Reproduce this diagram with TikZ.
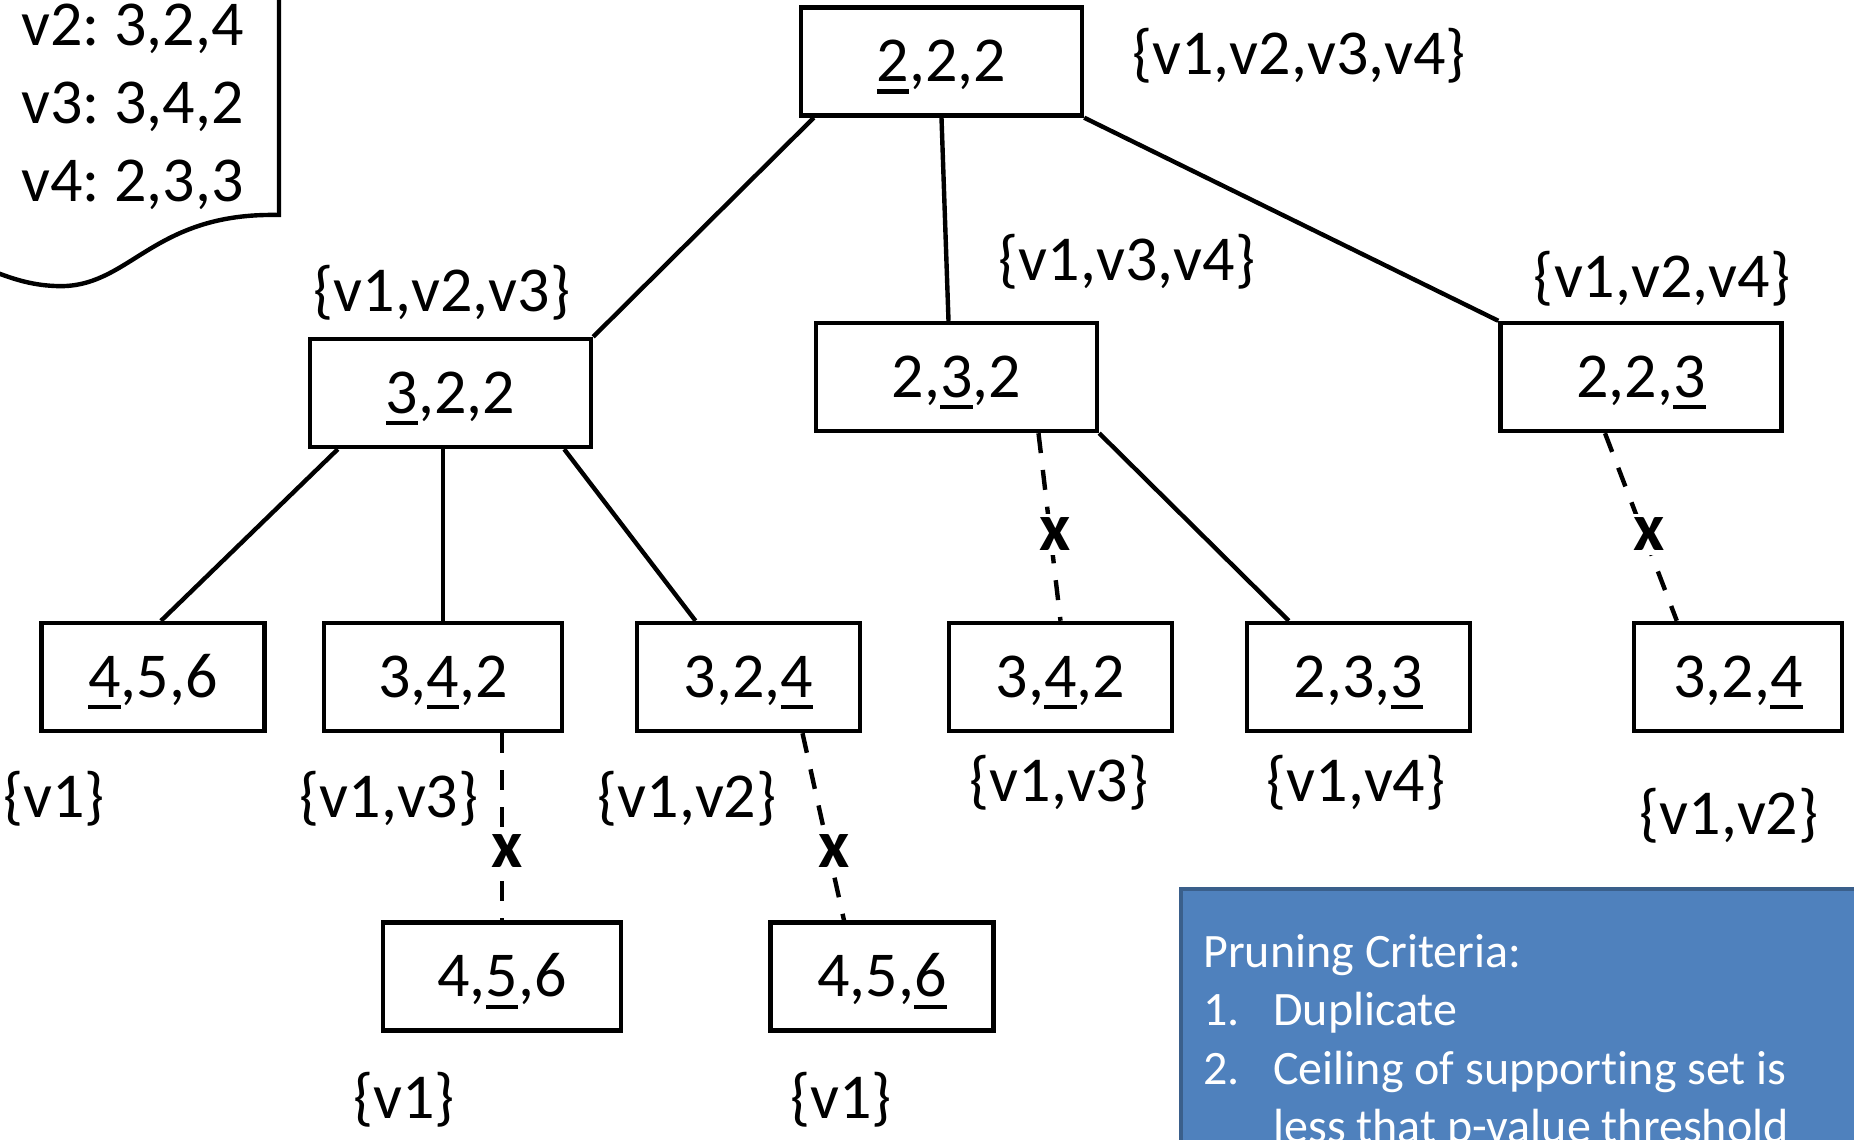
\documentclass[tikz,border=0pt]{standalone}
\usepackage{fontspec}
\setmainfont{Carlito}[Ligatures=CommonOff]
\usetikzlibrary{calc}
\definecolor{critfill}{HTML}{4F81BD}
\definecolor{critedge}{HTML}{3A5F8B}
% underlined digit (the coordinate that was raised)
\newcommand\uln[1]{\setbox0=\hbox{#1}\rlap{\rule[-0.19em]{\wd0}{0.065em}}\box0}
\frenchspacing

\begin{document}
\begin{tikzpicture}[x=0.5pt,y=-0.5pt,
  vec/.style={draw, line width=2.2pt, rectangle, inner sep=0pt, minimum height=54pt,
    text height=20pt, text depth=0pt, font=\fontsize{32}{38}\selectfont},
  wbox/.style={vec, minimum width=140.5pt},
  mbox/.style={vec, minimum width=119pt},
  nbox/.style={vec, minimum width=111.5pt},
  setlab/.style={inner sep=0pt, font=\fontsize{32}{38}\selectfont},
  edge/.style={line width=2.2pt},
  pruned/.style={edge, dash pattern=on 10pt off 8.5pt},
  cut/.style={fill=white, inner sep=2pt, xshift=2.5pt, font=\fontsize{34}{40}\selectfont\bfseries},
  listtxt/.style={anchor=base west, inner sep=0pt, font=\fontsize{32}{38}\selectfont},
  crit/.style={anchor=base west, inner sep=0pt, text=white, font=\fontsize{24}{29}\selectfont},
]
\useasboundingbox (0,0) rectangle (1854,1140);
\clip (0,0) rectangle (1854,1140);

% vote list on a document sheet
\draw[line width=2.2pt] (279,-10) -- (279,215)
  .. controls (150,212) and (130,290) .. (55,286)
  .. controls (30,285) and (10,278) .. (-10,270);
\node[listtxt] (v2) at (21,46) {v2: 3,2,4};
\node[listtxt] (v3) at (21,123) {v3: 3,4,2};
\node[listtxt] (v4) at (21,201) {v4: 2,3,3};

% search tree
\node[wbox] (r) at (941.5,61.5) {\uln{2},2,2};
\node[wbox] (a) at (450.5,393) {\uln{3},2,2};
\node[wbox] (b) at (956.5,377) {2,\uln{3},2};
\node[wbox] (c) at (1641,377) {2,2,\uln{3}};
\node[nbox] (a1) at (153,677) {\uln{4},5,6};
\node[mbox] (a2) at (443,677) {3,\uln{4},2};
\node[nbox] (a3) at (748.5,677) {3,2,\uln{4}};
\node[nbox] (b1) at (1060.5,677) {3,\uln{4},2};
\node[nbox] (b2) at (1358.5,677) {2,3,\uln{3}};
\node[vec, minimum width=104pt] (c1) at (1738,677) {3,2,\uln{4}};
\node[mbox] (a2x) at (502,976.5) {4,\uln{5},6};
\node[nbox] (a3x) at (882,976.5) {4,5,\uln{6}};

% supporting sets
\node[setlab] (lr) at (1299,56) {\{v1,v2,v3,v4\}};
\node[setlab] (la) at (442,293) {\{v1,v2,v3\}};
\node[setlab] (lb) at (1127,262) {\{v1,v3,v4\}};
\node[setlab] (lc) at (1662,279) {\{v1,v2,v4\}};
\node[setlab] (la1) at (54,799) {\{v1\}};
\node[setlab] (la2) at (389,799) {\{v1,v3\}};
\node[setlab] (la3) at (687,799) {\{v1,v2\}};
\node[setlab] (lb1) at (1059,783) {\{v1,v3\}};
\node[setlab] (lb2) at (1356,783) {\{v1,v4\}};
\node[setlab] (lc1) at (1729,816) {\{v1,v2\}};
\node[setlab] (la2x) at (404,1100) {\{v1\}};
\node[setlab] (la3x) at (841,1100) {\{v1\}};

% expansions
\draw[edge] ($(r.south west)+(15,0)$) -- (a.north east);
\draw[edge] (r.south) -- ($(b.north)+(-8,0)$);
\draw[edge] (r.south east) -- (c.north west);
\draw[edge] ($(a.south west)+(30,0)$) -- ($(a1.north)+(8,0)$);
\draw[edge] (a.south -| a2.north) -- (a2.north);
\draw[edge] ($(a.south east)+(-29,0)$) -- ($(a3.north)+(-53,0)$);
\draw[edge] (b.south east) -- ($(b2.north west)+(44,0)$);

% pruned expansions
\draw[pruned] ($(b.south)+(82,0)$) -- (b1.north) node[cut, pos=0.54] (xb) {x};
\draw[pruned] ($(c.south)+(-36,0)$) -- ($(c1.north west)+(45,0)$) node[cut, pos=0.54] (xc) {x};
\draw[pruned] (a2.south -| a2x.north) -- (a2x.north) node[cut, pos=0.63] (xa2) {x};
\draw[pruned] ($(a3.south)+(54,0)$) -- ($(a3x.north)+(-38,0)$) node[cut, pos=0.63] (xa3) {x};

% pruning criteria panel
\draw[line width=2pt, draw=critedge, fill=critfill] (1181,889) rectangle (1880,1180);
\node[crit] (t1) at (1203,967) {Pruning Criteria:};
\node[crit] (t2n) at (1203,1025) {1.};
\node[crit] (t2) at (1273,1025) {Duplicate};
\node[crit] (t3n) at (1203,1084) {2.};
\node[crit] (t3) at (1273,1084) {Ceiling of supporting set is};
\node[crit] (t4) at (1273,1142) {less that p-value threshold};
\end{tikzpicture}
\end{document}
